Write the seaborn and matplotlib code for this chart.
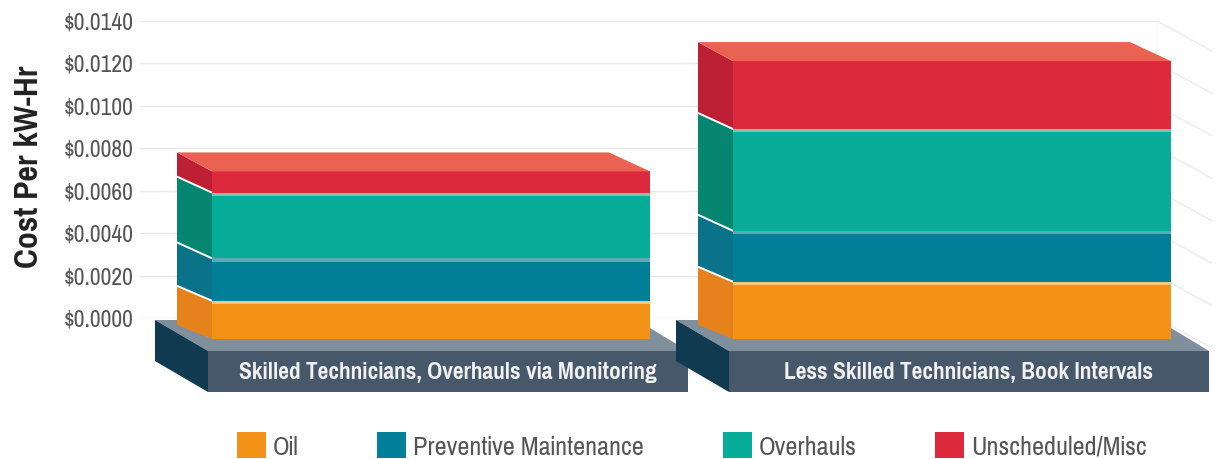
import numpy as np
import matplotlib
matplotlib.use('Agg')
import matplotlib.pyplot as plt
import matplotlib.font_manager as fm
import seaborn as sns
from matplotlib.patches import Patch

# Data
categories = ['Skilled Technicians, Overhauls via Monitoring', 'Less Skilled Technicians, Book Intervals']
series_names = ['Oil', 'Preventive Maintenance', 'Overhauls', 'Unscheduled/Misc']
oil = [0.0018, 0.0027]
preventive = [0.0020, 0.0024]
overhauls = [0.0031, 0.0048]
unscheduled = [0.0010, 0.0032]
y_ticks = [0.0, 0.002, 0.004, 0.006, 0.008, 0.010, 0.012, 0.014]

# Colours: front, side, light stripe on top of the layer
front_colors = ['#f39216', '#017f98', '#06ac97', '#dc2a3c']
side_colors = ['#e5821b', '#0b7389', '#068671', '#bd2035']
stripe_colors = ['#f7c67e', '#5fa9b6', '#7cc2b4', None]

sns.set_theme(style='white')

# condensed face if there is one, the sizes go with it
names = {f.name for f in fm.fontManager.ttflist}
if 'Pragati Narrow' in names:
    plt.rcParams['font.family'] = ['Pragati Narrow', 'DejaVu Sans']
    tick_size, cat_size, label_size, legend_size = 18.5, 18.3, 26.4, 20.5
else:
    plt.rcParams['font.family'] = ['Liberation Sans', 'DejaVu Sans']
    tick_size, cat_size, label_size, legend_size = 13.9, 13.9, 20, 15.5

W, H = 1219, 459
fig = plt.figure(figsize=(W / 100, H / 100), dpi=100, facecolor='white')
ax = fig.add_axes([140 / W, (H - 318) / H, 1017 / W, 297 / H], facecolor='none')

# pixel sizes to data sizes
px_x = 1 / 521
px_y = 0.014 / 297
bar_width = 438 * px_x
front_drop = 21 * px_y
depth_left = 35 * px_x
depth_right = 41 * px_x
# how far each layer boundary rises going to the back
depth_y = np.array([14, 15, 16, 16, 19]) * px_y

layers = [np.array(oil), np.array(preventive), np.array(overhauls), np.array(unscheduled)]
tops = np.cumsum(layers, axis=0)
edges = np.vstack([np.zeros(2), tops])
xpos = np.arange(len(categories))

# back wall lines
ax.grid(axis='y', color='#e9e9e9', linewidth=1)
ax.set_axisbelow(True)
xmin, xmax = (140 - 431) * px_x, (1157 - 431) * px_x
for t in y_ticks:
    ax.plot([xmax, xmax + 55 * px_x], [t, t - 30 * px_y], color='#ececec', lw=1, zorder=0.3, clip_on=False)
ax.axvline(xmax, color='#e9e9e9', lw=1, zorder=0.3)

# plinths under the bars
for x in xpos:
    fl = x + 17 * px_x - 240 * px_x
    fr = x + 17 * px_x + 240 * px_x
    bl = fl - 53 * px_x
    y_top_front = -33 * px_y
    y_bot_front = -74 * px_y
    y_top_back = -2 * px_y
    y_bot_back = -43 * px_y
    ax.fill([bl, fl, fr, fr - 38 * px_x, fr - 80 * px_x],
            [y_top_back, y_top_front, y_top_front, -10 * px_y, y_top_back],
            color='#7f8f9c', lw=0, zorder=0.4, clip_on=False)
    ax.fill([fl, fr, fr, fl], [y_top_front, y_top_front, y_bot_front, y_bot_front],
            color='#47586b', lw=0, zorder=0.4, clip_on=False)
    ax.fill([bl, fl, fl, bl], [y_top_back, y_top_front, y_bot_front, y_bot_back],
            color='#0f3a50', lw=0, zorder=0.4, clip_on=False)

# front faces
for i, name in enumerate(series_names):
    sns.barplot(x=categories, y=layers[i], bottom=edges[i] - front_drop, color=front_colors[i],
                saturation=1, width=bar_width, errorbar=None, ax=ax, linewidth=0)
    if stripe_colors[i]:
        sns.barplot(x=categories, y=[3.5 * px_y] * 2, bottom=tops[i] - front_drop - 3.5 * px_y,
                    color=stripe_colors[i], saturation=1, width=bar_width, errorbar=None, ax=ax, linewidth=0)

# side faces and the lid
for j, x in enumerate(xpos):
    fl = x - bar_width / 2
    fr = x + bar_width / 2
    bl = fl - depth_left
    br = fr - depth_right
    for i in range(4):
        f0, f1 = edges[i, j] - front_drop, edges[i + 1, j] - front_drop
        ax.fill([bl, fl, fl, bl], [f0 + depth_y[i], f0, f1, f1 + depth_y[i + 1]],
                color=side_colors[i], lw=0, clip_on=False)
        if i < 3:
            ax.plot([bl, fl], [f1 + depth_y[i + 1], f1], color='white', lw=1.4, clip_on=False, zorder=1.1,
                    solid_capstyle='butt')
    top = edges[4, j] - front_drop
    ax.fill([bl, br, fr, fl], [top + depth_y[4], top + depth_y[4], top, top],
            color='#ea6252', lw=0, clip_on=False)

for p in ax.patches:
    p.set_clip_on(False)

ax.set_xlim(xmin, xmax)
ax.set_ylim(0, 0.014)
ax.set_yticks(y_ticks)
ax.set_yticklabels([f'${t:.4f}' for t in y_ticks])
ax.tick_params(axis='y', length=0, pad=4.5, labelsize=tick_size, labelcolor='#555555')
ax.set_xticks(xpos + 17 * px_x)
ax.set_xticklabels(categories, fontweight='bold', color='#f2f2f2', fontsize=cat_size)
ax.tick_params(axis='x', length=0, pad=32)
ax.set_ylabel('Cost Per kW-Hr', fontsize=label_size, fontweight='bold', color='#222222')
ax.yaxis.set_label_coords((44 - 140) / 1017, (318 - 167) / 297)
sns.despine(ax=ax, left=True, bottom=True, top=True, right=True)

handles = [Patch(facecolor=c, edgecolor='none') for c in front_colors]
leg = fig.legend(handles, series_names, ncol=4, frameon=False, loc='lower left',
                 bbox_to_anchor=(237 / W, 0), borderaxespad=0, borderpad=0,
                 handlelength=1.02, handleheight=1.02, handletextpad=0.25, columnspacing=2.75,
                 fontsize=legend_size, labelcolor='#555555')

fig.savefig('out.png', dpi=100)
